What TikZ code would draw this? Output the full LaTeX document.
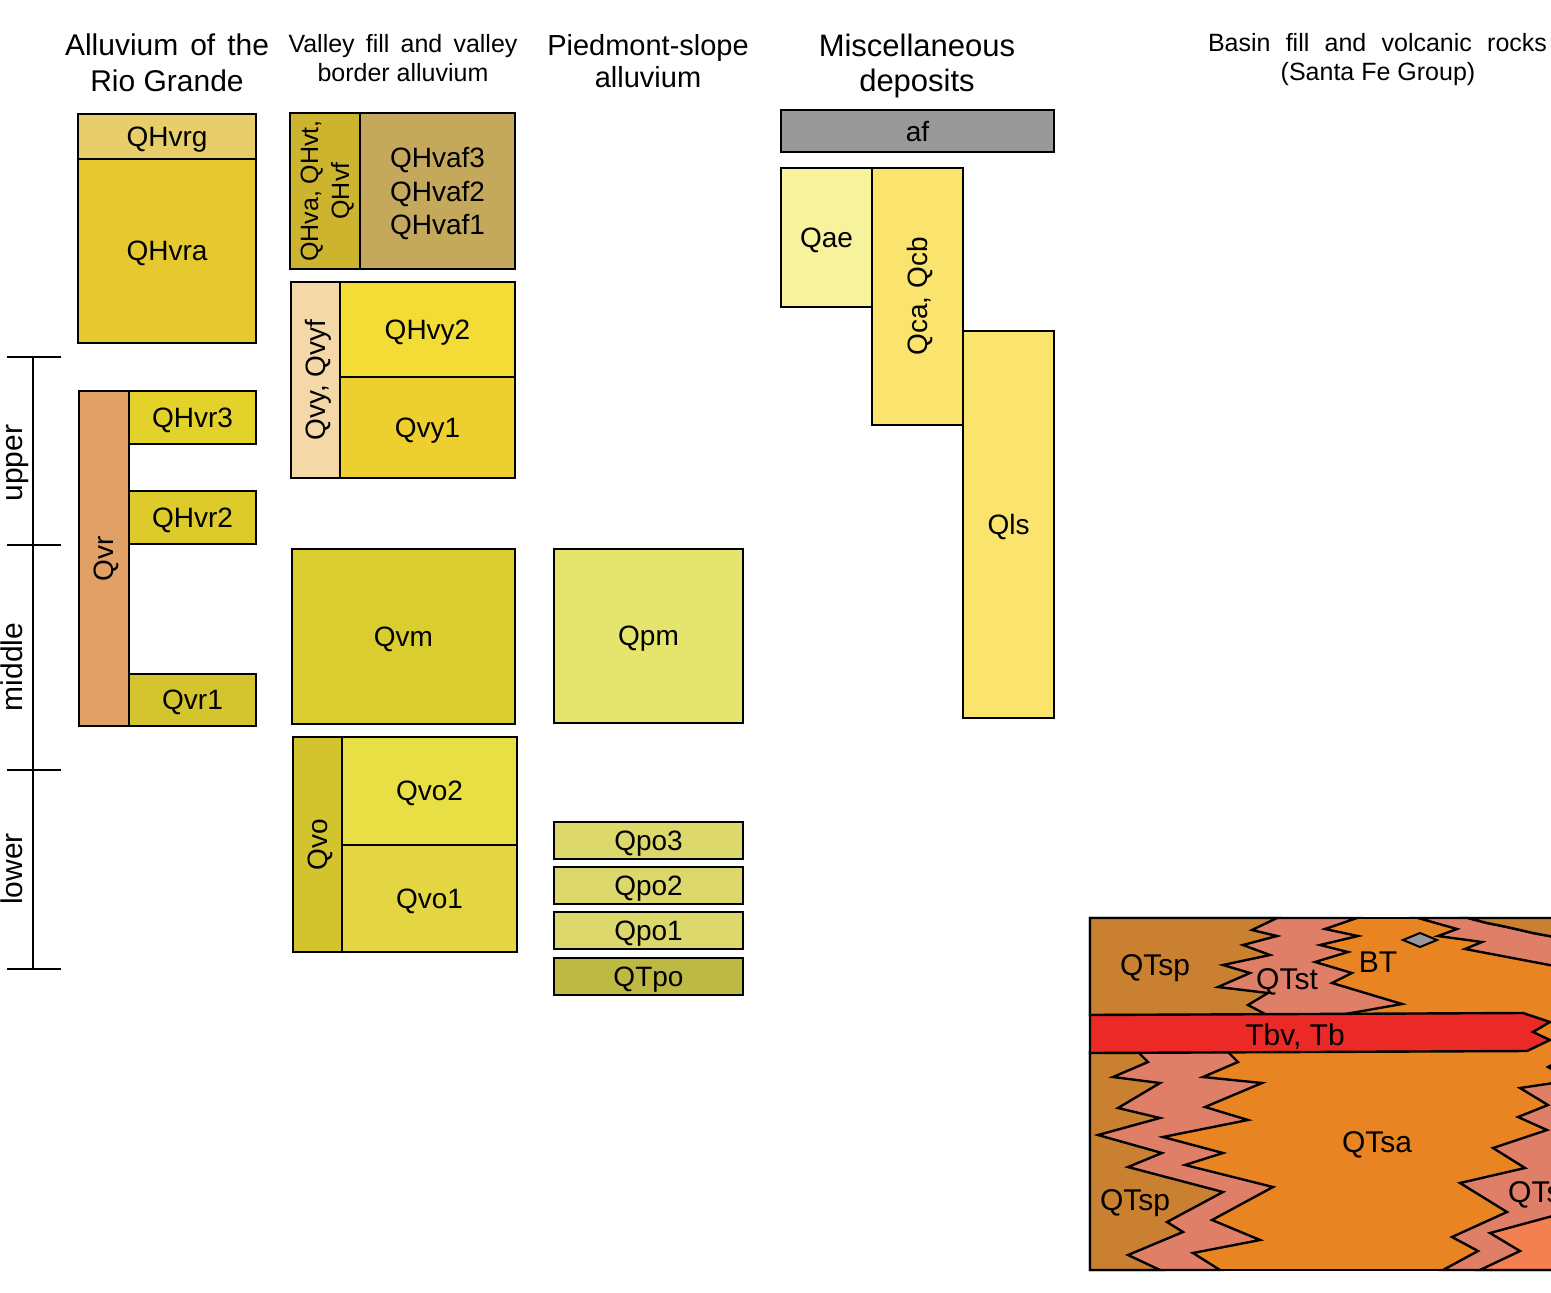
\documentclass[tikz,border=0pt]{standalone}
\usepackage{fontspec}
\setmainfont{Liberation Sans}
\usepackage{tikz}
\definecolor{cHvrg}{HTML}{E8CE6B}
\definecolor{cHvra}{HTML}{E5C92E}
\definecolor{cQvr}{HTML}{E0A066}
\definecolor{cHvrc}{HTML}{E2D22A}
\definecolor{cHvrb}{HTML}{DCCB2A}
\definecolor{cQvra}{HTML}{D4C52E}
\definecolor{cHva}{HTML}{CDB42F}
\definecolor{cHvaf}{HTML}{C4A95D}
\definecolor{cQvyf}{HTML}{F5D8A8}
\definecolor{cHvyb}{HTML}{F4DC36}
\definecolor{cQvya}{HTML}{EDCF2F}
\definecolor{cQvm}{HTML}{D9CD30}
\definecolor{cQvo}{HTML}{D3C42E}
\definecolor{cQvob}{HTML}{E8DF44}
\definecolor{cQvoa}{HTML}{E3D642}
\definecolor{cQpm}{HTML}{E5E46C}
\definecolor{cQpo}{HTML}{DDD86B}
\definecolor{cQTpo}{HTML}{BDB942}
\definecolor{cAf}{HTML}{999999}
\definecolor{cQae}{HTML}{F7F29C}
\definecolor{cQcb}{HTML}{FAE46D}
\definecolor{cQls}{HTML}{FAE46E}
\definecolor{cQTsp}{HTML}{C98030}
\definecolor{cQTst}{HTML}{E07F68}
\definecolor{cQTsa}{HTML}{E98423}
\definecolor{cTbv}{HTML}{EB2A28}
\definecolor{cQTsf}{HTML}{F28051}
\newcommand{\unitfont}{\fontsize{28}{33.5}\selectfont}
\newcommand{\basinfont}{\fontsize{30}{36}\selectfont}

\begin{document}
\begin{tikzpicture}[x=1pt,y=-1pt]
\tikzset{unit/.style = {shape=rectangle,draw,line width=2.4pt,inner sep=0pt,text depth=0pt,font=\unitfont}}
\tikzset{title/.style = {anchor=base,inner sep=0pt}}
\tikzset{tick/.style = {line width=2pt}}
\tikzset{contact/.style = {draw=black,line width=2.4pt,line join=miter}}
\tikzset{label/.style = {inner sep=0pt,text depth=0pt,font=\basinfont}}
\useasboundingbox (0,0) rectangle (1551,1293);
% headings
\node[title,font=\fontsize{30}{36}\selectfont] (rio1) at (167,55) {\makebox[204pt][s]{Alluvium of the}};
\node[title,font=\fontsize{30}{36}\selectfont] (rio2) at (167,91) {Rio Grande};
\node[title,font=\fontsize{25}{30}\selectfont] (val1) at (403,52) {\makebox[229pt][s]{Valley fill and valley}};
\node[title,font=\fontsize{25}{30}\selectfont] (val2) at (403,81) {border alluvium};
\node[title,font=\fontsize{29}{34}\selectfont] (pie1) at (648,55) {Piedmont-slope};
\node[title,font=\fontsize{29}{34}\selectfont] (pie2) at (648,87) {alluvium};
\node[title,font=\fontsize{31}{37}\selectfont] (mis1) at (917,56) {Miscellaneous};
\node[title,font=\fontsize{31}{37}\selectfont] (mis2) at (917,91) {deposits};
\node[title,font=\fontsize{25}{30}\selectfont] (bas1) at (1377.5,51) {\makebox[339pt][s]{Basin fill and volcanic rocks}};
\node[title,font=\fontsize{25}{30}\selectfont] (bas2) at (1378,80) {(Santa Fe Group)};
% time scale
\coordinate (ta) at (33,357);
\coordinate (tb) at (33,545);
\coordinate (tc) at (33,770);
\coordinate (td) at (33,969);
\draw[tick] (ta) -- (td);
\foreach \t in {ta,tb,tc,td}
  \draw[tick] ([xshift=-26pt]\t) -- ([xshift=28pt]\t);
\node[rotate=90,anchor=base,font=\basinfont] (upper) at (23,463) {upper};
\node[rotate=90,anchor=base,font=\basinfont] (middle) at (23,667) {middle};
\node[rotate=90,anchor=base,font=\basinfont] (lower) at (23,869) {lower};
% Rio Grande alluvium
\node[unit,fill=cHvrg,minimum width=178pt,minimum height=45pt] (qhvrg) at (167,136.5) {QHvrg};
\node[unit,fill=cHvra,minimum width=178pt,minimum height=184pt] (qhvra) at (167,251) {QHvra};
\node[unit,fill=cQvr,rotate=90,minimum width=335pt,minimum height=50pt] (qvr) at (104,558.5) {Qvr};
\node[unit,fill=cHvrc,minimum width=127pt,minimum height=53pt] (qhvr3) at (192.5,417.5) {QHvr3};
\node[unit,fill=cHvrb,minimum width=127pt,minimum height=53pt] (qhvr2) at (192.5,517.5) {QHvr2};
\node[unit,fill=cQvra,minimum width=127pt,minimum height=52pt] (qvr1) at (192.5,700) {Qvr1};
% valley fill
\node[unit,fill=cHva,rotate=90,align=center,font=\fontsize{25}{31}\selectfont,minimum width=156pt,minimum height=70pt] (qhva) at (325,191) {QHva, QHvt,\\QHvf};
\node[unit,fill=cHvaf,align=center,minimum width=155pt,minimum height=156pt] (qhvaf) at (437.5,191) {QHvaf3\\QHvaf2\\QHvaf1};
\node[unit,fill=cQvyf,rotate=90,minimum width=196pt,minimum height=49pt] (qvyf) at (315.5,380) {Qvy, Qvyf};
\node[unit,fill=cHvyb,minimum width=175pt,minimum height=95pt] (qhvy2) at (427.5,329.5) {QHvy2};
\node[unit,fill=cQvya,minimum width=175pt,minimum height=101pt] (qvy1) at (427.5,427.5) {Qvy1};
\node[unit,fill=cQvm,minimum width=223pt,minimum height=175pt] (qvm) at (403.5,636.5) {Qvm};
\node[unit,fill=cQvo,rotate=90,minimum width=215pt,minimum height=49pt] (qvo) at (317.5,844.5) {Qvo};
\node[unit,fill=cQvob,minimum width=175pt,minimum height=108pt] (qvo2) at (429.5,791) {Qvo2};
\node[unit,fill=cQvoa,minimum width=175pt,minimum height=107pt] (qvo1) at (429.5,898.5) {Qvo1};
% piedmont
\node[unit,fill=cQpm,minimum width=189pt,minimum height=174pt] (qpm) at (648.5,636) {Qpm};
\node[unit,fill=cQpo,minimum width=189pt,minimum height=37pt] (qpo3) at (648.5,840.5) {Qpo3};
\node[unit,fill=cQpo,minimum width=189pt,minimum height=37pt] (qpo2) at (648.5,885.5) {Qpo2};
\node[unit,fill=cQpo,minimum width=189pt,minimum height=37pt] (qpo1) at (648.5,930.5) {Qpo1};
\node[unit,fill=cQTpo,minimum width=189pt,minimum height=37pt] (qtpo) at (648.5,976.5) {QTpo};
% miscellaneous
\node[unit,fill=cAf,minimum width=273pt,minimum height=42pt] (af) at (917.5,131) {af};
\node[unit,fill=cQae,minimum width=91pt,minimum height=139pt] (qae) at (826.5,237.5) {Qae};
\node[unit,fill=cQcb,rotate=90,minimum width=257pt,minimum height=91pt] (qcb) at (917.5,296.5) {Qca, Qcb};
\node[unit,fill=cQls,minimum width=91pt,minimum height=387pt] (qls) at (1008.5,524.5) {Qls};
% Santa Fe Group
\begin{scope}
\clip (1080,905) rectangle (1551,1285);
\fill[cQTsa] (1090,918) rectangle (1560,1270);
\filldraw[contact,fill=cQTst] (1090,918) -- (1357,918) -- (1325,929) -- (1358,936) -- (1320,945) -- (1348,952) -- (1315,962) -- (1352,973) -- (1332,983) -- (1402,1004) -- (1340,1015) -- (1090,1015) -- cycle;
\filldraw[contact,fill=cQTsp] (1090,918) -- (1277,918) -- (1252,930) -- (1277,936) -- (1243,945) -- (1270,955) -- (1223,965) -- (1250,973) -- (1218,987) -- (1268,993) -- (1248,1005) -- (1267,1015) -- (1090,1015) -- cycle;
\filldraw[contact,fill=cQTst] (1418,918) -- (1457,929) -- (1438,936) -- (1482,942) -- (1465,949) -- (1560,967) -- (1560,938) -- (1533,933) -- (1507,927) -- (1487,923) -- (1468,918) -- cycle;
\filldraw[contact,fill=cQTsp] (1468,918) -- (1487,923) -- (1507,927) -- (1533,933) -- (1560,938) -- (1560,918) -- cycle;
\filldraw[contact,fill=cAf,line width=2pt] (1403,940) -- (1420,933) -- (1437,940) -- (1420,947) -- cycle;
\filldraw[contact,fill=cQTst] (1090,1052) -- (1228,1052) -- (1238,1062) -- (1203,1077) -- (1262,1083) -- (1205,1107) -- (1248,1120) -- (1163,1137) -- (1223,1153) -- (1185,1165) -- (1273,1187) -- (1212,1220) -- (1260,1240) -- (1193,1253) -- (1220,1270) -- (1090,1270) -- cycle;
\filldraw[contact,fill=cQTsp] (1090,1052) -- (1138,1052) -- (1148,1062) -- (1113,1077) -- (1160,1083) -- (1118,1108) -- (1160,1118) -- (1098,1135) -- (1162,1153) -- (1128,1167) -- (1223,1192) -- (1167,1222) -- (1183,1232) -- (1128,1255) -- (1160,1270) -- (1090,1270) -- cycle;
\filldraw[contact,fill=cQTst] (1560,1082) -- (1520,1088) -- (1548,1105) -- (1518,1117) -- (1547,1130) -- (1493,1148) -- (1525,1168) -- (1460,1183) -- (1507,1212) -- (1452,1237) -- (1478,1251) -- (1443,1270) -- (1560,1270) -- cycle;
\filldraw[contact,fill=cQTsf] (1560,1214) -- (1490,1233) -- (1520,1251) -- (1480,1270) -- (1560,1270) -- cycle;
\draw[contact] (1557,1062) -- (1548,1067) -- (1557,1072);
\filldraw[contact,fill=cTbv] (1090,1015) -- (1523,1013) -- (1550,1022) -- (1533,1032) -- (1550,1040) -- (1527,1051) -- (1090,1053) -- cycle;
\draw[contact] (1560,918) -- (1090,918) -- (1090,1270) -- (1560,1270);
\node[label,anchor=west] (qtst2) at (1508,1192) {QTst};
\end{scope}
\node[label] (qtsp1) at (1155,965) {QTsp};
\node[label] (qtst1) at (1287,979) {QTst};
\node[label] (bt) at (1378,962) {BT};
\node[label] (tbv) at (1295,1035) {Tbv, Tb};
\node[label] (qtsa) at (1377,1142) {QTsa};
\node[label] (qtsp2) at (1135,1200) {QTsp};
\end{tikzpicture}
\end{document}
